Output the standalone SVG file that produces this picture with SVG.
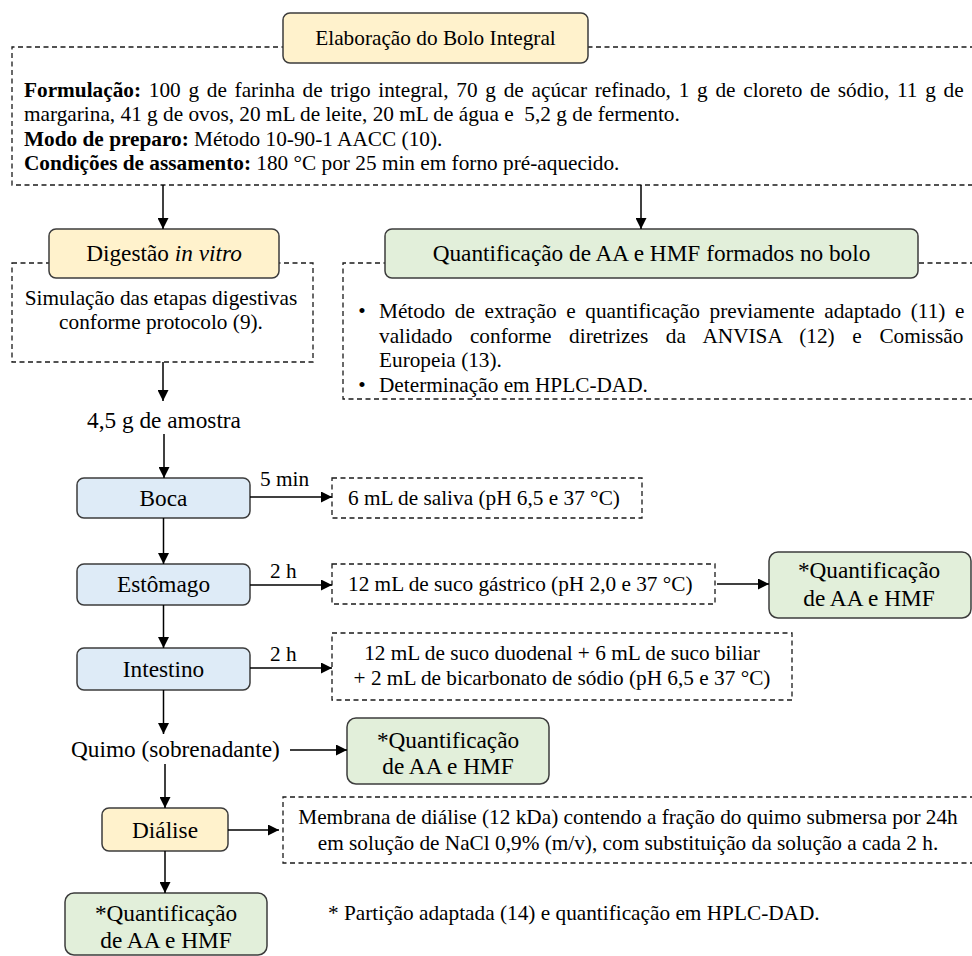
<svg xmlns="http://www.w3.org/2000/svg" width="972" height="956" viewBox="0 0 972 956">
<defs>
<style>
.t{font-family:'Liberation Serif',serif;font-size:18px;fill:#000}
.c{text-anchor:middle}
.b{font-weight:bold}
.i{font-style:italic}
.dash{fill:none;stroke:#1a1a1a;stroke-width:1.3;stroke-dasharray:5 3.5}
.yel{fill:#FFF2CC;stroke:#3c3c3c;stroke-width:1.5}
.grn{fill:#E2EFDA;stroke:#3c3c3c;stroke-width:1.5}
.blu{fill:#DEEBF7;stroke:#3c3c3c;stroke-width:1.5}
.ar{fill:none;stroke:#000;stroke-width:1.5;marker-end:url(#ah)}
</style>
<marker id="ah" markerUnits="userSpaceOnUse" markerWidth="12" markerHeight="11" refX="11" refY="5.5" orient="auto">
<path d="M0,0 L11,5.5 L0,11 z" fill="#000"/>
</marker>
</defs>
<rect width="972" height="956" fill="#fff"/>
<g id="elaboracao-detalhes">
<path class="dash" d="M975,47 H12 V185 H975"/>
<text class="t" transform="translate(24,96.5) scale(1.1833)" word-spacing="2.03"><tspan class="b">Formulação:</tspan> 100 g de farinha de trigo integral, 70 g de açúcar refinado, 1 g de cloreto de sódio, 11 g de</text>
<text class="t" transform="translate(24,121) scale(1.1833)" xml:space="preserve">margarina, 41 g de ovos, 20 mL de leite, 20 mL de água e  5,2 g de fermento.</text>
<text class="t" transform="translate(24,145.5) scale(1.1833)"><tspan class="b">Modo de preparo:</tspan> Método 10-90-1 AACC (10).</text>
<text class="t" transform="translate(24,170) scale(1.1833)"><tspan class="b">Condições de assamento:</tspan> 180 °C por 25 min em forno pré-aquecido.</text>
</g>
<g id="elaboracao">
<rect class="yel" x="283" y="13" width="305" height="50" rx="7"/>
<text class="t c" transform="translate(435.5,45) scale(1.1833)">Elaboração do Bolo Integral</text>
</g>
<g id="digestao-detalhes">
<rect class="dash" x="12" y="263" width="301" height="99"/>
<text class="t c" transform="translate(161,305) scale(1.1833)">Simulação das etapas digestivas</text>
<text class="t c" transform="translate(161,329) scale(1.1833)">conforme protocolo (9).</text>
</g>
<g id="digestao">
<rect class="yel" x="49" y="229" width="230" height="49" rx="7"/>
<text class="t c" transform="translate(164,261) scale(1.2944)">Digestão <tspan class="i">in vitro</tspan></text>
</g>
<g id="quant-bolo-detalhes">
<path class="dash" d="M975,263 H343 V399 H975"/>
<text class="t c" transform="translate(362,318) scale(1.1833)">•</text>
<text class="t" transform="translate(379,318) scale(1.1833)" word-spacing="3.63">Método de extração e quantificação previamente adaptado (11) e</text>
<text class="t" transform="translate(379,342.5) scale(1.1833)" word-spacing="10.4">validado conforme diretrizes da ANVISA (12) e Comissão</text>
<text class="t" transform="translate(379,367) scale(1.1833)">Europeia (13).</text>
<text class="t c" transform="translate(362,391.5) scale(1.1833)">•</text>
<text class="t" transform="translate(379,391.5) scale(1.1833)">Determinação em HPLC-DAD.</text>
</g>
<g id="quant-bolo">
<rect class="grn" x="385" y="229" width="533" height="49" rx="7"/>
<text class="t c" transform="translate(651.5,261) scale(1.2944)">Quantificação de AA e HMF formados no bolo</text>
</g>
<g id="amostra">
<text class="t c" transform="translate(164,428) scale(1.2944)">4,5 g de amostra</text>
</g>
<g id="boca">
<rect class="blu" x="77" y="478" width="173" height="40" rx="7"/>
<text class="t c" transform="translate(163.5,506) scale(1.2944)">Boca</text>
</g>
<g id="saliva">
<rect class="dash" x="332" y="478" width="310" height="40"/>
<text class="t" transform="translate(348,505) scale(1.1833)">6 mL de saliva (pH 6,5 e 37 °C)</text>
</g>
<g id="estomago">
<rect class="blu" x="77" y="564" width="173" height="41" rx="7"/>
<text class="t c" transform="translate(163.5,592) scale(1.2944)">Estômago</text>
</g>
<g id="suco-gastrico">
<rect class="dash" x="332" y="564" width="383" height="40"/>
<text class="t" transform="translate(348,591) scale(1.1833)">12 mL de suco gástrico (pH 2,0 e 37 °C)</text>
</g>
<g id="quant-gastrico">
<rect class="grn" x="769" y="552" width="202" height="66" rx="9"/>
<text class="t c" transform="translate(869,578) scale(1.2944)">*Quantificação</text>
<text class="t c" transform="translate(869,606) scale(1.2944)">de AA e HMF</text>
</g>
<g id="intestino">
<rect class="blu" x="77" y="648" width="173" height="42" rx="7"/>
<text class="t c" transform="translate(163.5,677) scale(1.2944)">Intestino</text>
</g>
<g id="suco-duodenal">
<rect class="dash" x="332" y="633" width="460" height="67"/>
<text class="t c" transform="translate(562,660) scale(1.1833)">12 mL de suco duodenal + 6 mL de suco biliar</text>
<text class="t c" transform="translate(562,685) scale(1.1833)">+ 2 mL de bicarbonato de sódio (pH 6,5 e 37 °C)</text>
</g>
<g id="quimo">
<text class="t" transform="translate(71,757) scale(1.2944)">Quimo (sobrenadante)</text>
</g>
<g id="quant-quimo">
<rect class="grn" x="347" y="718" width="202" height="66" rx="9"/>
<text class="t c" transform="translate(448,748) scale(1.2944)">*Quantificação</text>
<text class="t c" transform="translate(448,774) scale(1.2944)">de AA e HMF</text>
</g>
<g id="dialise">
<rect class="yel" x="102" y="808" width="126" height="43" rx="7"/>
<text class="t c" transform="translate(165,838) scale(1.2944)">Diálise</text>
</g>
<g id="membrana">
<path class="dash" d="M975,797 H283 V863 H975"/>
<text class="t c" transform="translate(628,824) scale(1.1833)">Membrana de diálise (12 kDa) contendo a fração do quimo submersa por 24h</text>
<text class="t c" transform="translate(628,850) scale(1.1833)">em solução de NaCl 0,9% (m/v), com substituição da solução a cada 2 h.</text>
</g>
<g id="quant-dialise">
<rect class="grn" x="65" y="893" width="202" height="62" rx="9"/>
<text class="t c" transform="translate(166,921) scale(1.2944)">*Quantificação</text>
<text class="t c" transform="translate(166,948) scale(1.2944)">de AA e HMF</text>
</g>
<g id="nota">
<text class="t" transform="translate(328,920) scale(1.1833)">* Partição adaptada (14) e quantificação em HPLC-DAD.</text>
</g>
<g id="connectors">
<line class="ar" x1="163" y1="185" x2="163" y2="229"/>
<line class="ar" x1="641" y1="185" x2="641" y2="229"/>
<line class="ar" x1="163" y1="362" x2="163" y2="401"/>
<line class="ar" x1="164" y1="434" x2="164" y2="478"/>
<line class="ar" x1="250" y1="497" x2="332" y2="497"/>
<text class="t" transform="translate(260,486) scale(1.1833)">5 min</text>
<line class="ar" x1="163.5" y1="518" x2="163.5" y2="564"/>
<line class="ar" x1="250" y1="585" x2="332" y2="585"/>
<text class="t" transform="translate(270,578) scale(1.1833)">2 h</text>
<line class="ar" x1="717" y1="584" x2="769" y2="584"/>
<line class="ar" x1="163.5" y1="605" x2="163.5" y2="648"/>
<line class="ar" x1="250" y1="668" x2="332" y2="668"/>
<text class="t" transform="translate(270,661) scale(1.1833)">2 h</text>
<line class="ar" x1="163.5" y1="690" x2="163.5" y2="734"/>
<line class="ar" x1="290" y1="750" x2="347" y2="750"/>
<line class="ar" x1="165" y1="764" x2="165" y2="808"/>
<line class="ar" x1="228" y1="830" x2="279" y2="830"/>
<line class="ar" x1="165" y1="851" x2="165" y2="893"/>
</g>
</svg>
